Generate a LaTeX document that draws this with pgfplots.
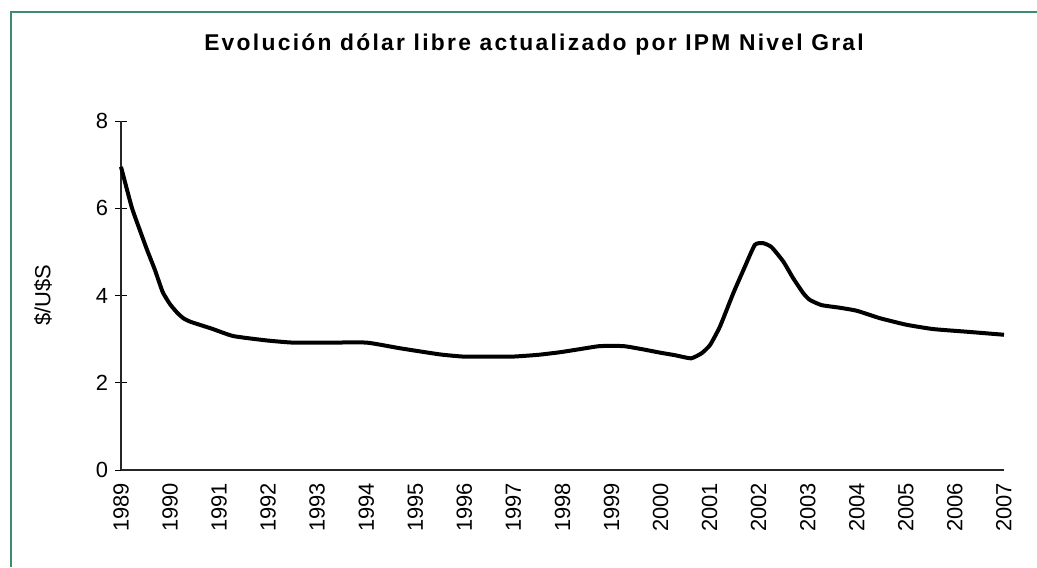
\documentclass[border=0pt]{standalone}
\usepackage{pgfplots}
\pgfplotsset{compat=1.18}
\usepackage{fontspec}
\setmainfont{Liberation Sans}
\newfontfamily\titlefont[LetterSpace=10]{Liberation Sans Bold}
\definecolor{framegreen}{RGB}{60,140,110}
\begin{document}
\begin{tikzpicture}[x=1bp,y=1bp]
\useasboundingbox (0,0) rectangle (518.5,283.5);
\draw[framegreen, line width=0.8bp] (5.5,0) -- (5.5,277.5) -- (518.5,277.5);
\node[font=\titlefont\fontsize{11.45}{13}\selectfont, anchor=center] at (267,261) {Evolución dólar libre actualizado por IPM Nivel Gral};
\begin{axis}[
  at={(60.5bp,48.5bp)}, anchor=south west,
  scale only axis, width=441.5bp, height=174.5bp,
  xmin=1989, xmax=2007, ymin=0, ymax=8,
  axis x line=bottom, axis y line=left,
  axis line style={-, black!85, line width=0.6bp},
  xtick={1989,...,2007},
  xticklabels={1989,1990,1991,1992,1993,1994,1995,1996,1997,1998,1999,2000,2001,2002,2003,2004,2005,2006,2007},
  x tick label style={rotate=90, anchor=east, font=\fontsize{11}{12}\selectfont},
  y tick label style={font=\fontsize{11}{12}\selectfont},
  ytick={0,2,4,6,8},
  /pgf/number format/assume math mode=true,
  tick align=center,
  major tick length=6bp,
  x tick style={draw=none},
  y tick style={black, line width=0.5bp},
  ylabel={\$/U\$S},
  ylabel style={font=\fontsize{11}{12}\selectfont, at={(axis description cs:-0.0883,0.5)}, anchor=center, rotate=0},
  clip=false,
]
\addplot[black, line width=2bp, line join=round, smooth, tension=0.3] coordinates {
(1989.00,6.95) (1989.22,6.02) (1989.40,5.45) (1989.53,5.05) (1989.69,4.59) (1989.85,4.08)
(1990.00,3.80) (1990.15,3.60) (1990.27,3.48) (1990.41,3.40) (1990.85,3.24) (1991.29,3.07)
(1991.97,2.97) (1992.51,2.92) (1993.25,2.92) (1994.01,2.92) (1994.69,2.79) (1995.50,2.65)
(1995.98,2.60) (1996.50,2.60) (1996.99,2.60) (1997.50,2.64) (1997.95,2.70) (1998.35,2.77)
(1998.76,2.84) (1999.24,2.84) (1999.62,2.77) (1999.99,2.69) (2000.30,2.63) (2000.62,2.56)
(2000.84,2.68) (2001.01,2.87) (2001.21,3.29) (2001.48,4.05) (2001.69,4.59) (2001.92,5.16)
(2002.09,5.20) (2002.26,5.11) (2002.50,4.78) (2002.70,4.40) (2002.91,4.05) (2003.04,3.90)
(2003.28,3.78) (2003.65,3.72) (2004.00,3.65) (2004.47,3.48) (2005.01,3.33) (2005.56,3.23)
(2006.24,3.17) (2007.00,3.10)
};
\end{axis}
\end{tikzpicture}
\end{document}
